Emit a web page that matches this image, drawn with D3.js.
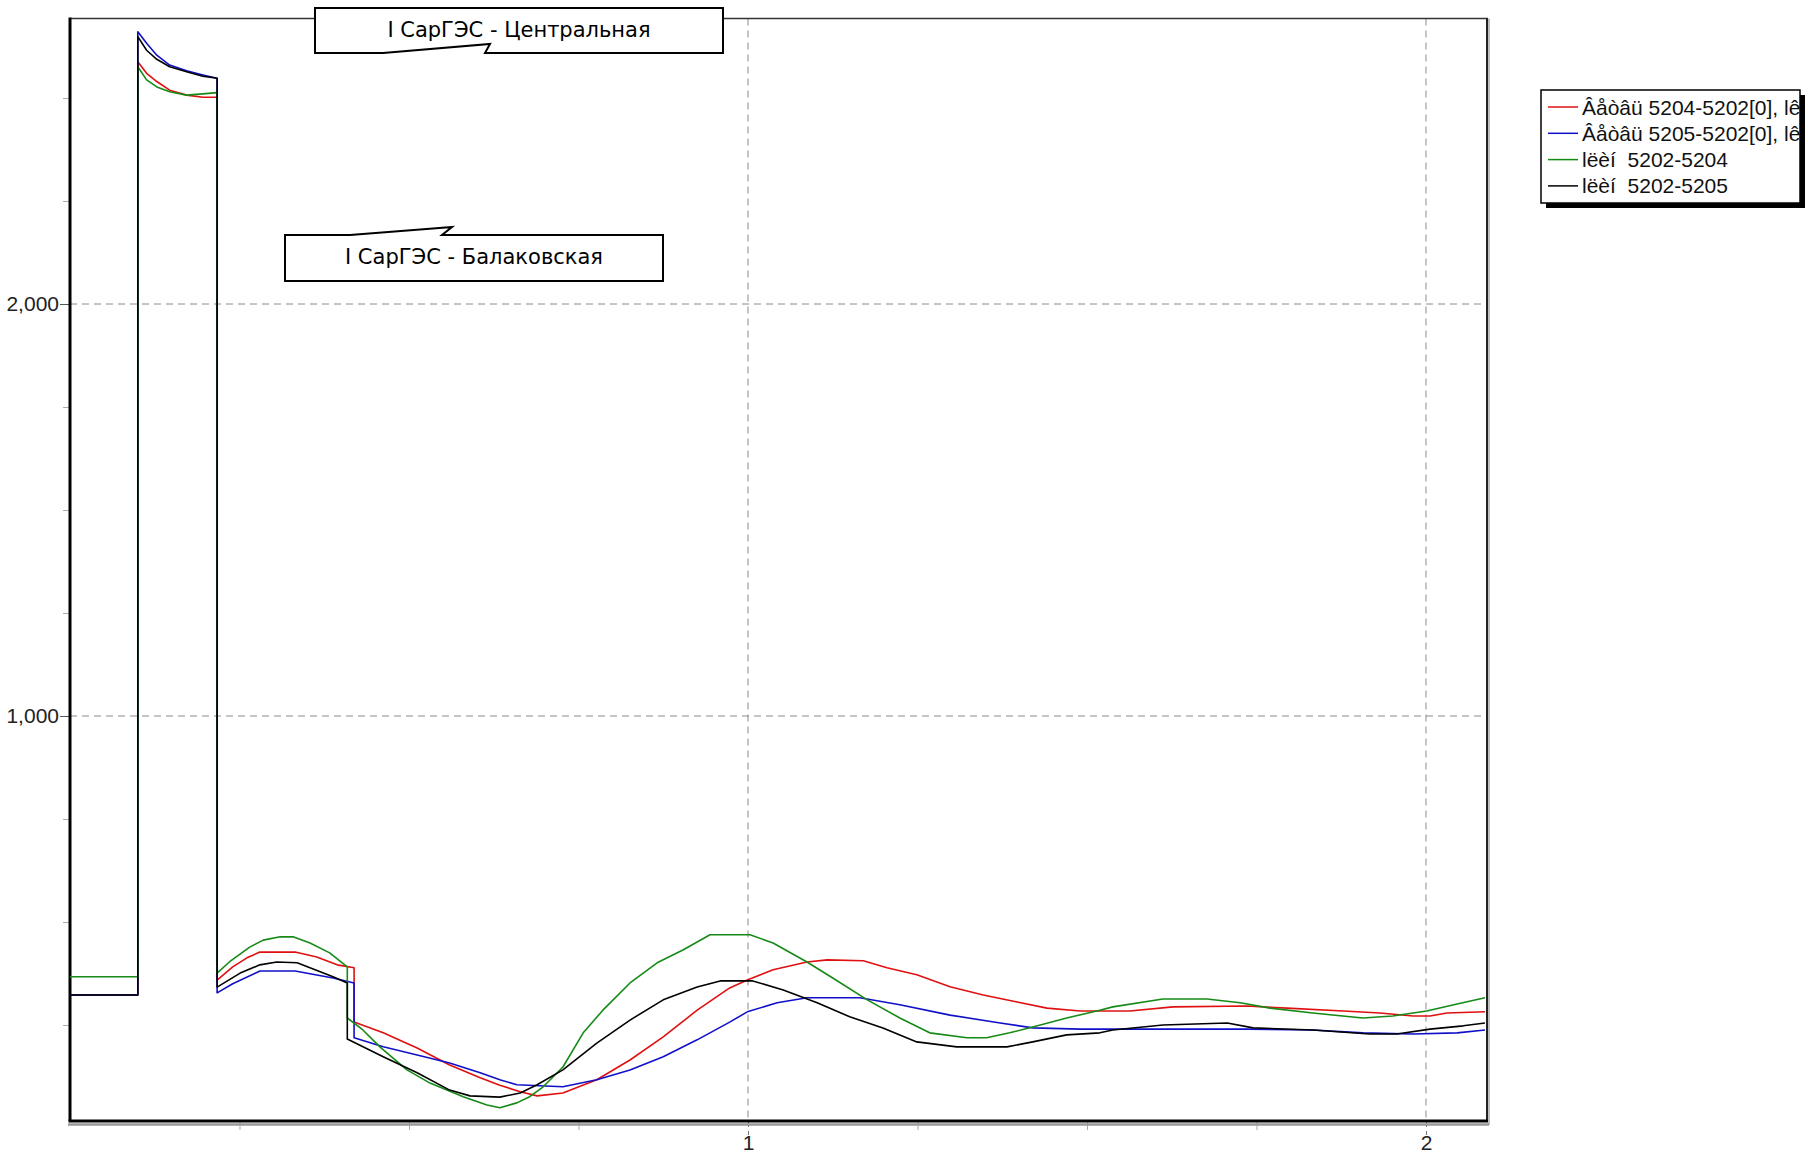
<!DOCTYPE html>
<html>
<head>
<meta charset="utf-8">
<script src="https://cdn.jsdelivr.net/npm/d3@7"></script>
<style>
  body { margin: 0; background: #fff; }
  svg { display: block; }
  .axis text { font-family: "Liberation Sans", Arial, sans-serif; fill: #222; }
  .y-axis text { font-size: 21px; }
  .x-axis text { font-size: 21px; }
  .legend-text { font-family: "Liberation Sans", Arial, sans-serif; font-size: 21px; fill: #111; white-space: pre; }
  .callout-text { font-family: "DejaVu Sans", Verdana, sans-serif; font-size: 21px; fill: #000; }
</style>
</head>
<body>
<svg id="chart"></svg>
<script>
// time (s) / value pairs
const redSeries = [[0,323],[0.1,323],[0.1,2588],[0.113,2560],[0.128,2540],[0.147,2519],[0.172,2507],[0.196,2502],[0.217,2502],
  [0.217,359],[0.240,391],[0.261,413],[0.280,427],[0.332,427],[0.364,415],[0.394,396],[0.419,389],
  [0.419,257],[0.462,231],[0.512,194],[0.560,153],[0.605,122],[0.634,104],[0.664,88],[0.689,78],[0.727,85],[0.777,117],
  [0.826,165],[0.875,221],[0.925,286],[0.973,340],[0.999,359],[1.037,384],[1.087,403],[1.117,408],[1.170,406],[1.205,389],
  [1.249,372],[1.298,343],[1.347,323],[1.397,306],[1.441,291],[1.490,284],[1.563,284],[1.627,294],[1.736,296],[1.795,291],
  [1.878,284],[1.932,279],[1.981,272],[2.006,272],[2.031,279],[2.087,282]]

const blueSeries = [[0,323],[0.1,323],[0.1,2661],[0.113,2633],[0.128,2604],[0.147,2580],[0.172,2566],[0.196,2556],[0.217,2548],
  [0.217,328],[0.240,350],[0.280,381],[0.332,381],[0.388,364],[0.419,352],
  [0.419,219],[0.462,197],[0.512,177],[0.560,158],[0.605,134],[0.634,117],[0.659,105],[0.727,100],[0.777,117],[0.826,141],
  [0.875,173],[0.925,214],[0.973,257],[0.999,282],[1.043,304],[1.087,316],[1.165,316],[1.224,299],[1.298,274],[1.372,255],
  [1.420,243],[1.490,240],[1.736,240],[1.833,238],[1.907,231],[1.981,228],[2.046,231],[2.087,238]]

const greenSeries = [[0,367],[0.1,367],[0.1,2576],[0.113,2544],[0.128,2527],[0.147,2515],[0.172,2507],[0.196,2510],[0.217,2513],
  [0.217,376],[0.235,403],[0.265,439],[0.285,456],[0.310,464],[0.329,464],[0.354,449],[0.383,425],[0.409,391],
  [0.409,267],[0.432,238],[0.457,197],[0.497,141],[0.531,109],[0.580,76],[0.615,56],[0.634,49],[0.659,61],[0.678,76],
  [0.698,100],[0.727,148],[0.757,231],[0.786,286],[0.826,352],[0.866,401],[0.904,432],[0.944,469],[1.003,469],[1.037,449],
  [1.087,403],[1.125,364],[1.176,311],[1.224,267],[1.268,231],[1.323,219],[1.352,219],[1.386,231],[1.420,245],[1.470,267],
  [1.519,286],[1.538,294],[1.612,313],[1.677,313],[1.726,304],[1.770,291],[1.833,279],[1.907,267],[1.951,272],[2.001,284],
  [2.046,301],[2.087,316]]

const blackSeries = [[0,323],[0.1,323],[0.1,2649],[0.113,2616],[0.128,2594],[0.147,2576],[0.172,2564],[0.196,2553],[0.217,2548],
  [0.217,342],[0.251,376],[0.280,396],[0.305,403],[0.335,401],[0.388,367],[0.409,352],
  [0.409,216],[0.462,173],[0.512,134],[0.560,92],[0.590,78],[0.634,75],[0.664,85],[0.689,105],[0.727,141],[0.777,206],
  [0.826,262],[0.875,311],[0.925,342],[0.959,357],[1.007,357],[1.052,335],[1.102,304],[1.150,270],[1.199,243],[1.249,209],
  [1.308,197],[1.382,197],[1.420,209],[1.470,226],[1.519,231],[1.538,238],[1.612,250],[1.707,255],[1.745,243],[1.833,238],
  [1.917,228],[1.957,228],[2.006,240],[2.055,248],[2.087,255]]

const seriesNames = ['Âåòâü 5204-5202[0], lê', 'Âåòâü 5205-5202[0], lê', 'lëèí  5202-5204', 'lëèí  5202-5205']
const seriesColors = ['#e01010', '#1010c8', '#168a16', '#000000']

const xMajorTicks = [1, 2]
const xMinorTicks = [0.25, 0.5, 0.75, 1.25, 1.5, 1.75]
const yMajorTicks = [1000, 2000]
const yMinorTicks = [250, 500, 750, 1250, 1500, 1750, 2250, 2500]

const calloutLabels = ['I СарГЭС - Центральная', 'I СарГЭС - Балаковская']

class TransientPlot {

    constructor(_config, _data) {
        this.config = {
            parentElement: _config.parentElement,
            containerWidth: _config.containerWidth || 1808,
            containerHeight: _config.containerHeight || 1157,
            margin: { top: 18.5, right: 321, bottom: 36, left: 70 }
        }
        this.data = _data
        this.initVis()
    }

    initVis() {
        let vis = this

        vis.width = vis.config.containerWidth - vis.config.margin.left - vis.config.margin.right
        vis.height = vis.config.containerHeight - vis.config.margin.top - vis.config.margin.bottom

        vis.svg = d3.select(vis.config.parentElement)
            .attr('width', vis.config.containerWidth)
            .attr('height', vis.config.containerHeight)

        vis.chart = vis.svg.append('g')
            .attr('transform', `translate(${vis.config.margin.left}, ${vis.config.margin.top})`)

        vis.xScale = d3.scaleLinear()
            .domain([0, 2.09])
            .range([0, vis.width])

        vis.yScale = d3.scaleLinear()
            .domain([17, 2693])
            .range([vis.height, 0])

        // grid
        vis.chart.selectAll('.hgrid')
            .data(yMajorTicks)
            .join('line')
                .attr('class', 'hgrid')
                .attr('x1', 0).attr('x2', vis.width)
                .attr('y1', d => vis.yScale(d)).attr('y2', d => vis.yScale(d))
                .attr('stroke', '#8a8a8a').attr('stroke-dasharray', '7,5')

        vis.chart.selectAll('.vgrid')
            .data(xMajorTicks)
            .join('line')
                .attr('class', 'vgrid')
                .attr('x1', d => vis.xScale(d)).attr('x2', d => vis.xScale(d))
                .attr('y1', 0).attr('y2', vis.height)
                .attr('stroke', '#8a8a8a').attr('stroke-dasharray', '7,5')

        // axes
        vis.yAxisGroup = vis.chart.append('g')
            .attr('class', 'axis y-axis')
            .call(d3.axisLeft(vis.yScale).tickValues(yMajorTicks).tickSize(10).tickPadding(1).tickFormat(d3.format(',')))
        vis.yAxisGroup.selectAll('line').attr('stroke', '#555')

        vis.chart.append('g')
            .attr('class', 'axis y-minor')
            .call(d3.axisLeft(vis.yScale).tickValues(yMinorTicks).tickSize(7).tickFormat(''))
            .selectAll('line').attr('stroke', '#aaa')

        vis.xAxisGroup = vis.chart.append('g')
            .attr('class', 'axis x-axis')
            .attr('transform', `translate(0, ${vis.height})`)
            .call(d3.axisBottom(vis.xScale).tickValues(xMajorTicks).tickSize(14).tickPadding(0).tickFormat(d3.format('d')))
        vis.xAxisGroup.selectAll('line').attr('stroke', '#777').attr('stroke-dasharray', '6,4')

        vis.chart.append('g')
            .attr('class', 'axis x-minor')
            .attr('transform', `translate(0, ${vis.height})`)
            .call(d3.axisBottom(vis.xScale).tickValues(xMinorTicks).tickSize(9).tickFormat(''))
            .selectAll('line').attr('stroke', '#aaa')

        vis.chart.selectAll('.axis .domain').remove()

        // frame: thin top/right, heavy left/bottom with shadow
        vis.chart.append('line')
            .attr('x1', 0).attr('x2', vis.width + 1).attr('y1', 0).attr('y2', 0)
            .attr('stroke', '#333').attr('stroke-width', 1.5)
        vis.chart.append('line')
            .attr('x1', vis.width + 2).attr('x2', vis.width + 2).attr('y1', 0).attr('y2', vis.height + 4)
            .attr('stroke', '#aaa').attr('stroke-width', 1.5)
        vis.chart.append('line')
            .attr('x1', vis.width).attr('x2', vis.width).attr('y1', 0).attr('y2', vis.height)
            .attr('stroke', '#222').attr('stroke-width', 2)
        vis.chart.append('line')
            .attr('x1', -2).attr('x2', vis.width + 2).attr('y1', vis.height + 3.5).attr('y2', vis.height + 3.5)
            .attr('stroke', '#999').attr('stroke-width', 2.5)
        vis.chart.append('line')
            .attr('x1', -1.5).attr('x2', vis.width + 1).attr('y1', vis.height).attr('y2', vis.height)
            .attr('stroke', '#000').attr('stroke-width', 3)
        vis.chart.append('line')
            .attr('x1', 0).attr('x2', 0).attr('y1', -1).attr('y2', vis.height)
            .attr('stroke', '#000').attr('stroke-width', 3)

        vis.renderVis()
    }

    renderVis() {
        let vis = this

        let line = d3.line()
            .x(d => vis.xScale(d[0]))
            .y(d => vis.yScale(d[1]))

        vis.chart.selectAll('.trace')
            .data(vis.data)
            .join('path')
                .attr('class', 'trace')
                .attr('fill', 'none')
                .attr('stroke', (d, i) => seriesColors[i])
                .attr('stroke-width', 1.6)
                .attr('stroke-linejoin', 'round')
                .attr('d', d => line(d))

        // callouts
        let callouts = [
            { label: calloutLabels[0], tx: 519, ty: 37,
              path: 'M315,8 H723 V53 H485 L490,44 L383,53 H315 Z' },
            { label: calloutLabels[1], tx: 474, ty: 264,
              path: 'M285,235 H350 L452,227 L442,235 H663 V281 H285 Z' }
        ]
        let cg = vis.svg.append('g').attr('class', 'callouts')
        callouts.forEach(c => {
            cg.append('path')
                .attr('d', c.path)
                .attr('fill', '#fff')
                .attr('stroke', '#000')
                .attr('stroke-width', 2)
            cg.append('text')
                .attr('class', 'callout-text')
                .attr('x', c.tx).attr('y', c.ty)
                .attr('text-anchor', 'middle')
                .text(c.label)
        })

        // legend
        let lg = vis.svg.append('g').attr('class', 'legend').attr('transform', 'translate(1541, 90)')
        lg.append('clipPath').attr('id', 'legend-clip')
            .append('rect').attr('width', 259).attr('height', 113)
        lg.append('rect').attr('x', 5).attr('y', 5).attr('width', 259).attr('height', 113).attr('fill', '#000')
        lg.append('rect').attr('width', 259).attr('height', 113)
            .attr('fill', '#fff').attr('stroke', '#000').attr('stroke-width', 1.5)

        let rows = lg.append('g').attr('clip-path', 'url(#legend-clip)')
            .selectAll('.legend-row')
            .data(seriesNames)
            .join('g')
                .attr('class', 'legend-row')
                .attr('transform', (d, i) => `translate(0, ${17 + i * 26.3})`)
        rows.append('line')
            .attr('x1', 7).attr('x2', 37)
            .attr('stroke', (d, i) => seriesColors[i])
            .attr('stroke-width', 1.5)
        rows.append('text')
            .attr('class', 'legend-text')
            .attr('x', 41).attr('y', 7.5)
            .text(d => d)
    }
}

new TransientPlot({ parentElement: '#chart' }, [redSeries, blueSeries, greenSeries, blackSeries])
</script>
</body>
</html>
